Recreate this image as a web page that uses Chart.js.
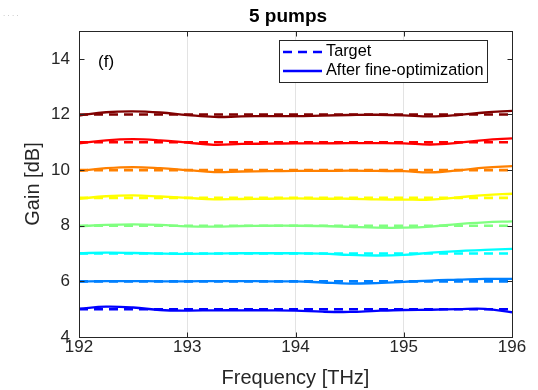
<!DOCTYPE html>
<html>
<head>
<meta charset="utf-8">
<script src="https://cdn.jsdelivr.net/npm/chart.js@4/dist/chart.umd.min.js"></script>
<style>
  html, body { margin: 0; padding: 0; background: #ffffff; }
  #wrap { width: 538px; height: 390px; position: relative; }
</style>
</head>
<body>
<div id="wrap"><canvas id="c" width="538" height="390"></canvas></div>
<script>
// Frequency grid (THz)
const freq = [192, 192.25, 192.5, 192.75, 193, 193.25, 193.5, 193.75, 194,
              194.25, 194.5, 194.75, 195, 195.25, 195.5, 195.75, 196];

// Target gain levels (dB), one flat profile per pump configuration
const targetLevels = [5, 6, 7, 8, 9, 10, 11, 12];

// Gain after fine-optimization (dB)
const gain5  = [5.02, 5.09, 5.06, 4.97, 4.95, 4.96, 4.96, 4.96, 4.95, 4.91, 4.90, 4.94, 4.97, 4.98, 5.00, 5.01, 4.89];
const gain6  = [5.99, 6.01, 6.01, 6.00, 6.00, 6.01, 6.01, 6.00, 6.00, 5.96, 5.92, 5.94, 5.98, 6.03, 6.06, 6.09, 6.09];
const gain7  = [7.01, 7.03, 7.02, 7.00, 6.99, 7.00, 7.01, 7.01, 7.01, 7.00, 6.95, 6.93, 6.95, 7.03, 7.09, 7.13, 7.17];
const gain8  = [7.98, 8.03, 8.05, 8.03, 7.98, 7.97, 7.99, 8.00, 8.00, 7.99, 7.96, 7.93, 7.93, 7.97, 8.06, 8.12, 8.16];
const gain9  = [8.97, 9.06, 9.09, 9.05, 9.00, 8.95, 8.96, 8.97, 8.98, 8.97, 8.97, 8.95, 8.94, 8.94, 9.02, 9.10, 9.15];
const gain10 = [9.97, 10.07, 10.11, 10.07, 10.00, 9.93, 9.95, 9.96, 9.97, 9.97, 9.98, 9.97, 9.96, 9.92, 9.99, 10.09, 10.14];
const gain11 = [10.96, 11.07, 11.11, 11.07, 10.99, 10.91, 10.94, 10.95, 10.96, 10.96, 10.97, 10.97, 10.96, 10.92, 10.98, 11.08, 11.14];
const gain12 = [11.96, 12.08, 12.11, 12.07, 11.98, 11.91, 11.93, 11.94, 11.94, 11.96, 11.98, 11.99, 11.97, 11.93, 11.98, 12.07, 12.13];

const gains = [gain5, gain6, gain7, gain8, gain9, gain10, gain11, gain12];
const lineColors = ['#0000ff', '#0080ff', '#00ffff', '#80ff80', '#ffff00', '#ff8000', '#ff0000', '#800000'];

// Axis ticks
const xTicks = [192, 193, 194, 195, 196];
const yTicks = [4, 6, 8, 10, 12, 14];

const FONT = '"Liberation Sans", Arial, Helvetica, sans-serif';

const datasets = [];
targetLevels.forEach((lvl, i) => {
  datasets.push({
    label: 'Target ' + lvl,
    data: [freq[0], freq[freq.length - 1]].map(f => ({ x: f, y: lvl })),
    borderColor: lineColors[i],
    borderWidth: 2.6,
    borderDash: [9, 6],
    pointRadius: 0,
    fill: false,
    tension: 0
  });
  datasets.push({
    label: 'After fine-optimization ' + lvl,
    data: freq.map((f, k) => ({ x: f, y: gains[i][k] })),
    borderColor: lineColors[i],
    borderWidth: 2.3,
    pointRadius: 0,
    fill: false,
    tension: 0.4
  });
});

// Frame, inward ticks, title, axis titles, panel tag and legend box
const decorations = {
  id: 'decorations',
  afterDatasetsDraw(chart) {
    const { ctx, chartArea: a, scales } = chart;
    const xs = scales.x, ys = scales.y;
    ctx.save();
    ctx.strokeStyle = '#262626';
    ctx.lineWidth = 1;
    const L = Math.round(a.left) + 0.5, R = Math.round(a.right) + 0.5;
    const T = Math.round(a.top) + 0.5, B = Math.round(a.bottom) + 0.5;
    ctx.strokeRect(L, T, R - L, B - T);
    const tl = 5;
    ctx.beginPath();
    xTicks.forEach(v => {
      const px = Math.round(xs.getPixelForValue(v)) + 0.5;
      ctx.moveTo(px, B); ctx.lineTo(px, B - tl);
      ctx.moveTo(px, T); ctx.lineTo(px, T + tl);
    });
    yTicks.forEach(v => {
      const py = Math.round(ys.getPixelForValue(v)) + 0.5;
      ctx.moveTo(L, py); ctx.lineTo(L + tl, py);
      ctx.moveTo(R, py); ctx.lineTo(R - tl, py);
    });
    ctx.stroke();

    // Title
    ctx.fillStyle = '#000000';
    ctx.font = 'bold 19px ' + FONT;
    ctx.textAlign = 'center';
    ctx.textBaseline = 'middle';
    ctx.fillText('5 pumps', 288, 17);

    // Axis titles
    ctx.fillStyle = '#262626';
    ctx.font = '20px ' + FONT;
    ctx.fillText('Frequency [THz]', (a.left + a.right) / 2, 378);
    ctx.save();
    ctx.translate(33, (a.top + a.bottom) / 2);
    ctx.rotate(-Math.PI / 2);
    ctx.fillText('Gain [dB]', 0, 0);
    ctx.restore();

    // Panel tag
    ctx.fillStyle = '#000000';
    ctx.font = '17px ' + FONT;
    ctx.textAlign = 'left';
    ctx.fillText('(f)', 98, 62);

    // Legend
    const bx = 279.5, by = 40.5, bw = 208, bh = 42;
    ctx.fillStyle = '#ffffff';
    ctx.fillRect(bx, by, bw, bh);
    ctx.strokeStyle = '#262626';
    ctx.lineWidth = 1;
    ctx.strokeRect(bx, by, bw, bh);
    ctx.strokeStyle = '#0000ff';
    ctx.lineWidth = 2.6;
    ctx.setLineDash([9, 6]);
    ctx.beginPath(); ctx.moveTo(283, 52); ctx.lineTo(322, 52); ctx.stroke();
    ctx.setLineDash([]);
    ctx.lineWidth = 2.3;
    ctx.beginPath(); ctx.moveTo(283, 71); ctx.lineTo(322, 71); ctx.stroke();
    ctx.fillStyle = '#000000';
    ctx.font = '16.3px ' + FONT;
    ctx.fillText('Target', 326, 52);
    ctx.fillText('After fine-optimization', 326, 71);

    // Small marker in the top-left corner
    ctx.fillStyle = '#b0b0b0';
    ctx.font = '8px ' + FONT;
    ctx.fillText('. . . .', 3, 14);
    ctx.restore();
  }
};

new Chart(document.getElementById('c'), {
  type: 'line',
  data: { datasets },
  options: {
    responsive: false,
    animation: false,
    devicePixelRatio: 1,
    layout: { padding: { left: 0, top: 31, right: 26, bottom: 0 } },
    plugins: { legend: { display: false }, title: { display: false }, tooltip: { enabled: false } },
    scales: {
      x: {
        type: 'linear',
        min: 192, max: 196,
        afterBuildTicks: s => { s.ticks = xTicks.map(v => ({ value: v })); },
        afterFit: s => { s.height = 53; },
        ticks: { font: { size: 17, family: FONT }, color: '#262626', padding: 0, maxRotation: 0 },
        grid: { display: true, color: '#e3e3e3', lineWidth: 1, drawTicks: false },
        border: { display: false }
      },
      y: {
        type: 'linear',
        min: 4, max: 15,
        afterBuildTicks: s => { s.ticks = yTicks.map(v => ({ value: v })); },
        afterFit: s => { s.width = 79; },
        ticks: { font: { size: 17, family: FONT }, color: '#262626', padding: 9 },
        grid: { display: false, drawTicks: false },
        border: { display: false }
      }
    }
  },
  plugins: [decorations]
});
</script>
</body>
</html>
